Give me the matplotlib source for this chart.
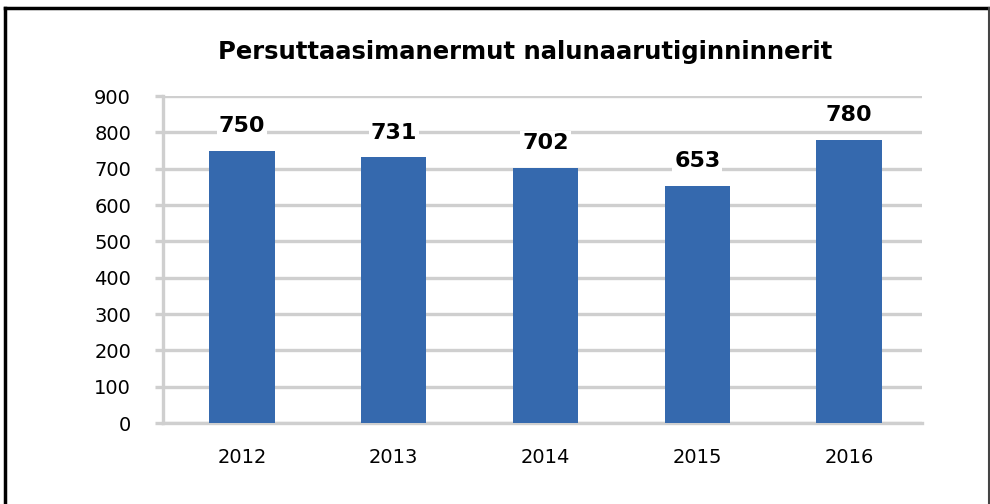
import matplotlib
matplotlib.use("Agg")
import matplotlib.pyplot as plt
from matplotlib.lines import Line2D

years = ["2012", "2013", "2014", "2015", "2016"]
values = [750, 731, 702, 653, 780]
yticks = [0, 100, 200, 300, 400, 500, 600, 700, 800, 900]

bar_color = "#3569ae"
grid_color = "#cfcfcf"

fig = plt.figure(figsize=(9.9, 5.04), dpi=100)
ax = fig.add_axes([0.1646, 0.1607, 0.7667, 0.6488])

x = [i + 0.02 for i in range(len(years))]
ax.bar(x, values, width=0.43, color=bar_color, zorder=3)

ax.set_xlim(-0.5, len(years) - 0.5)
ax.set_ylim(0, 900)
ax.set_yticks(yticks)
ax.set_xticks(x)
ax.set_xticklabels(years)

# grid lines
ax.yaxis.grid(True, color=grid_color, linewidth=2.4, zorder=0)
ax.set_axisbelow(True)
for s in ["top", "right"]:
    ax.spines[s].set_visible(False)
ax.spines["left"].set_color(grid_color)
ax.spines["left"].set_linewidth(2.4)
ax.spines["bottom"].set_color(grid_color)
ax.spines["bottom"].set_linewidth(2.4)

ax.tick_params(axis="y", length=6, width=2.4, color=grid_color, pad=17, labelsize=14)
ax.tick_params(axis="x", length=0, pad=18, labelsize=14)

# value labels
for xi, v in zip(x, values):
    ax.annotate(str(v), (xi, v), xytext=(0, 10.5), textcoords="offset points",
                ha="center", va="bottom", fontsize=16, fontweight="bold",
                bbox=dict(facecolor="white", edgecolor="none", pad=1.5), zorder=4)

fig.text(0.53, 0.897, "Persuttaasimanermut nalunaarutiginninnerit",
         ha="center", va="center", fontsize=17.5, fontweight="bold")

# outer frame (left, top, right only)
fig.add_artist(Line2D([0.005, 0.005], [0, 0.984], color="black", linewidth=2.5, transform=fig.transFigure))
fig.add_artist(Line2D([0.005, 0.9985], [0.984, 0.984], color="black", linewidth=2.5, transform=fig.transFigure))
fig.add_artist(Line2D([0.9985, 0.9985], [0, 0.984], color="#444444", linewidth=1.5, transform=fig.transFigure))

fig.savefig("out.png", dpi=100)
